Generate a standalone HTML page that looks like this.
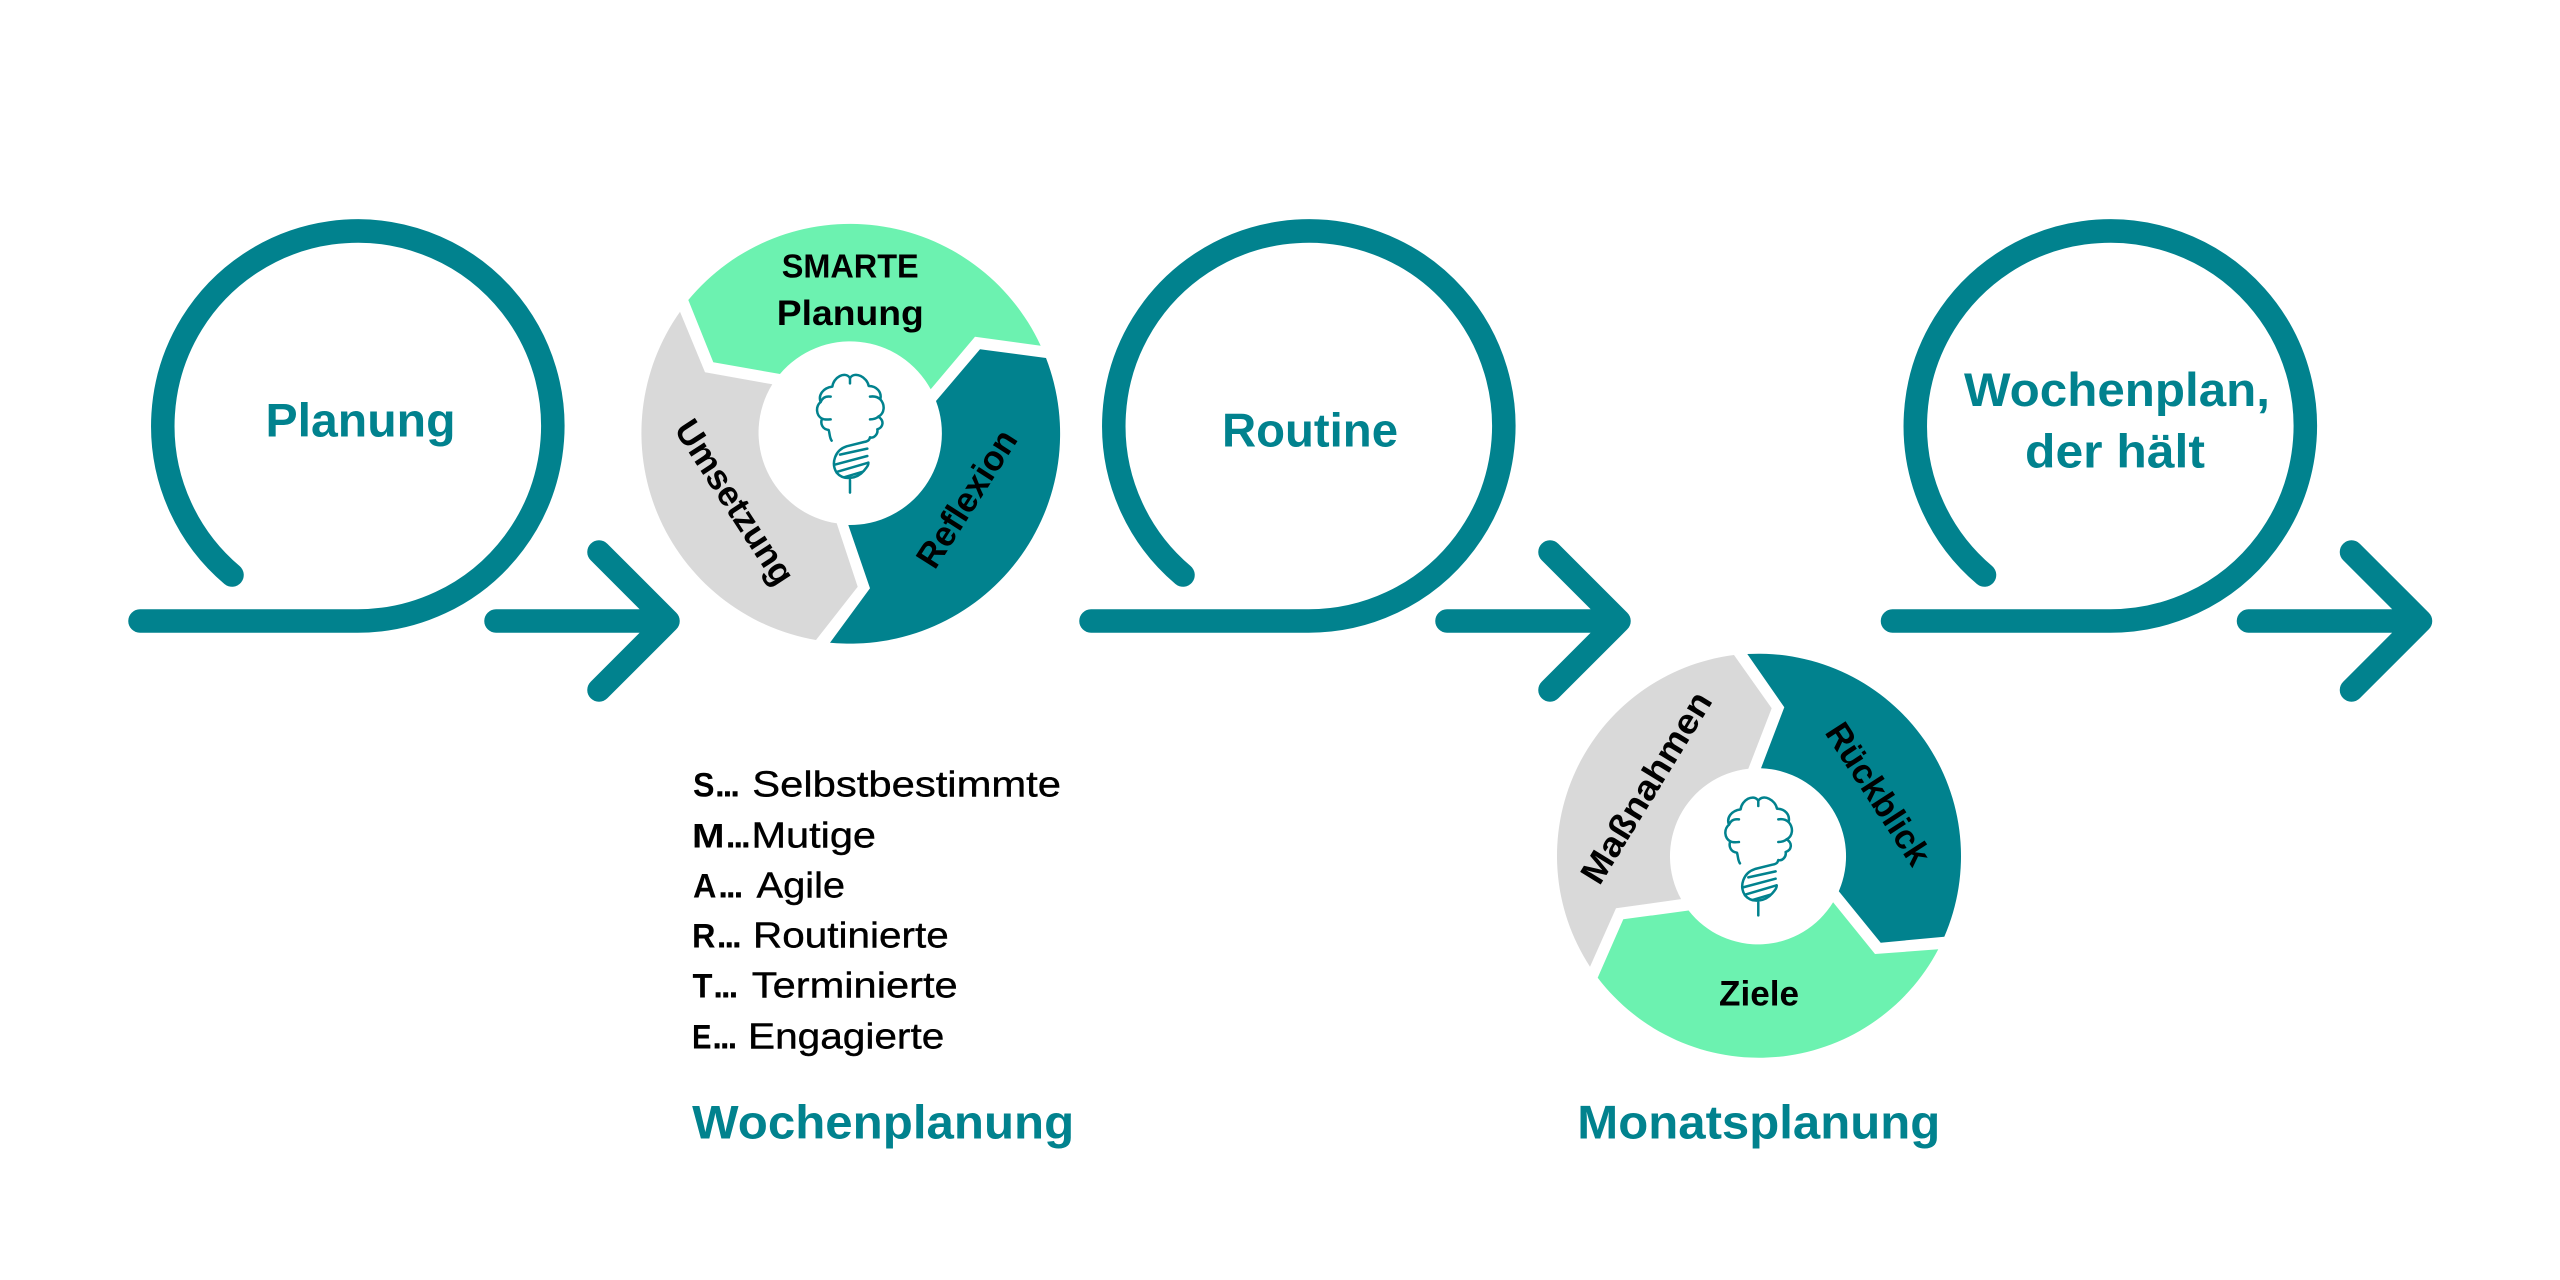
<!DOCTYPE html>
<html lang="de">
<head>
<meta charset="utf-8">
<title>Wochenplan</title>
<style>
html,body{margin:0;padding:0;background:#fff;width:2560px;height:1280px;overflow:hidden}
svg{display:block}
text{font-family:"Liberation Sans",sans-serif}
.h{font-weight:700;font-size:47px;fill:#01828e}
.l{font-weight:700;font-size:35px;fill:#000}
.b{font-weight:700;font-size:34px;fill:#000}
.r{font-weight:400;font-size:36px;fill:#000;stroke:#000;stroke-width:.4px}
.d{font-weight:700;font-size:35px;fill:#000}
</style>
</head>
<body>
<svg width="2560" height="1280" viewBox="0 0 2560 1280" xmlns="http://www.w3.org/2000/svg">
<defs>
<g id="loop" fill="none" stroke="#01828e" stroke-width="23.5" stroke-linecap="round" stroke-linejoin="round">
<path d="M140,621 H357.5 A195,195 0 1 0 232,575"/>
<path d="M496,621 H668 M599,552 L668,621 L599,690"/>
</g>
<g id="ico" fill="none" stroke="#01828e" stroke-width="7.5" stroke-linecap="round" stroke-linejoin="round" transform="translate(790,350) scale(.3333)">
<path d="M125,272 C118,262 120,252 116,240 C98,238 90,222 96,206 C78,196 76,170 92,156 C84,136 98,114 127,110 C130,82 165,62 180,84 C195,62 232,82 236,108 C260,108 276,126 271,148 C286,165 284,190 265,200 C284,212 280,232 262,238 C265,252 252,266 240,262 C238,272 232,274 222,276 L170,289 C135,300 122,340 140,368 C160,392 200,388 222,362 C232,350 236,345 235,338"/>
<path d="M180,84 V100"/>
<path d="M92,156 C98,142 108,138 122,140"/>
<path d="M96,206 C104,210 112,209 122,208"/>
<path d="M271,148 C262,140 252,138 240,140"/>
<path d="M265,200 C258,206 250,208 240,208"/>
<path d="M150,314 L232,296"/>
<path d="M134,344 L232,318"/>
<path d="M140,366 L235,338"/>
<path d="M162,382 L216,366"/>
<path d="M180,390 V428"/>
</g>
</defs>

<use href="#loop"/>
<use href="#loop" transform="translate(951,0)"/>
<use href="#loop" transform="translate(1752.5,0)"/>

<text class="h" x="265.5" y="436.7" textLength="190" lengthAdjust="spacingAndGlyphs">Planung</text>
<text class="h" x="1222" y="446.7" textLength="176" lengthAdjust="spacingAndGlyphs">Routine</text>
<text class="h" x="1964" y="406" textLength="306" lengthAdjust="spacingAndGlyphs">Wochenplan,</text>
<text class="h" x="2025" y="467.7" textLength="180" lengthAdjust="spacingAndGlyphs">der hält</text>

<!-- Wheel 1 -->
<path fill="#6cf2b0" d="M688.3,300 L713.3,362.3 L780,374 A91.7,91.7 0 0 1 930.7,389.3 L975,336.7 L1040.7,345.7 A210,210 0 0 0 688.3,300 Z"/>
<path fill="#01828e" d="M980,349.3 L1046,358 A210,210 0 0 1 830,642.7 L870,588.3 L848.3,525 A91.7,91.7 0 0 0 936,401 Z"/>
<path fill="#d9d9d9" d="M680,311.7 L705,372.3 L772.3,384.3 A91.7,91.7 0 0 0 836.7,523.3 L857.7,586.7 L816,640 A210,210 0 0 1 680,311.7 Z"/>
<use href="#ico"/>
<text class="l" style="font-size:33.5px" x="781.7" y="277.3" textLength="137" lengthAdjust="spacingAndGlyphs">SMARTE</text>
<text class="l" x="776.8" y="325" textLength="147" lengthAdjust="spacingAndGlyphs">Planung</text>
<text class="l" transform="translate(725,508.5) rotate(57)" x="-94.5" y="0" textLength="189" lengthAdjust="spacingAndGlyphs">Umsetzung</text>
<text class="l" transform="translate(976.7,505) rotate(-57.5)" x="-78" y="0" textLength="156" lengthAdjust="spacingAndGlyphs">Reflexion</text>

<!-- Wheel 2 -->
<path fill="#01828e" d="M1747.3,654 A202.5,202.5 0 0 1 1944.3,936.7 L1880.7,942.7 L1838.8,891.2 A88,88 0 0 0 1761,768.3 L1784.3,707.3 Z"/>
<path fill="#d9d9d9" d="M1734,655 L1771.7,708.3 L1748.3,768.8 A88,88 0 0 0 1681.1,899.1 L1616,908.3 L1590,966.7 A202.5,202.5 0 0 1 1734,655 Z"/>
<path fill="#6cf2b0" d="M1938.3,949.3 A202.5,202.5 0 0 1 1597.7,977.7 L1623.3,919.3 L1688.6,910.5 A88,88 0 0 0 1833.1,902.2 L1875,954 Z"/>
<use href="#ico" transform="translate(908.3,422.7)"/>
<text class="l" x="1719" y="1005.7" textLength="80" lengthAdjust="spacingAndGlyphs">Ziele</text>
<text class="l" transform="translate(1656.3,793.7) rotate(-58.5)" x="-109" y="0" textLength="218" lengthAdjust="spacingAndGlyphs">Maßnahmen</text>
<text class="l" transform="translate(1868.3,800.3) rotate(57)" x="-81" y="0" textLength="162" lengthAdjust="spacingAndGlyphs">Rückblick</text>

<!-- List -->
<text class="b" x="693" y="796.7" textLength="21.5" lengthAdjust="spacingAndGlyphs">S</text>
<text class="d" x="715" y="796.7" textLength="25" lengthAdjust="spacing">...</text>
<text class="r" x="752.3" y="796.7" textLength="308.7" lengthAdjust="spacingAndGlyphs">Selbstbestimmte</text>

<text class="b" x="692" y="847.3" textLength="32.5" lengthAdjust="spacingAndGlyphs">M</text>
<text class="d" x="725.7" y="847.3" textLength="25" lengthAdjust="spacing">...</text>
<text class="r" x="751.5" y="847.3" textLength="124.5" lengthAdjust="spacingAndGlyphs">Mutige</text>

<text class="b" x="693" y="897.3" textLength="23.5" lengthAdjust="spacingAndGlyphs">A</text>
<text class="d" x="718.3" y="897.3" textLength="25" lengthAdjust="spacing">...</text>
<text class="r" x="756.5" y="897.3" textLength="88.6" lengthAdjust="spacingAndGlyphs">Agile</text>

<text class="b" x="692" y="947.7" textLength="23.5" lengthAdjust="spacingAndGlyphs">R</text>
<text class="d" x="716.7" y="947.7" textLength="25" lengthAdjust="spacing">...</text>
<text class="r" x="753" y="947.7" textLength="195.7" lengthAdjust="spacingAndGlyphs">Routinierte</text>

<text class="b" x="692.5" y="997.7" textLength="20" lengthAdjust="spacingAndGlyphs">T</text>
<text class="d" x="713.3" y="997.7" textLength="25" lengthAdjust="spacing">...</text>
<text class="r" x="751.8" y="997.7" textLength="205.9" lengthAdjust="spacingAndGlyphs">Terminierte</text>

<text class="b" x="692" y="1048.3" textLength="19.5" lengthAdjust="spacingAndGlyphs">E</text>
<text class="d" x="712.3" y="1048.3" textLength="25" lengthAdjust="spacing">...</text>
<text class="r" x="748" y="1048.3" textLength="196.3" lengthAdjust="spacingAndGlyphs">Engagierte</text>

<text class="h" x="692.2" y="1138.3" textLength="382" lengthAdjust="spacingAndGlyphs">Wochenplanung</text>
<text class="h" x="1577.3" y="1138.3" textLength="363" lengthAdjust="spacingAndGlyphs">Monatsplanung</text>
</svg>
</body>
</html>
